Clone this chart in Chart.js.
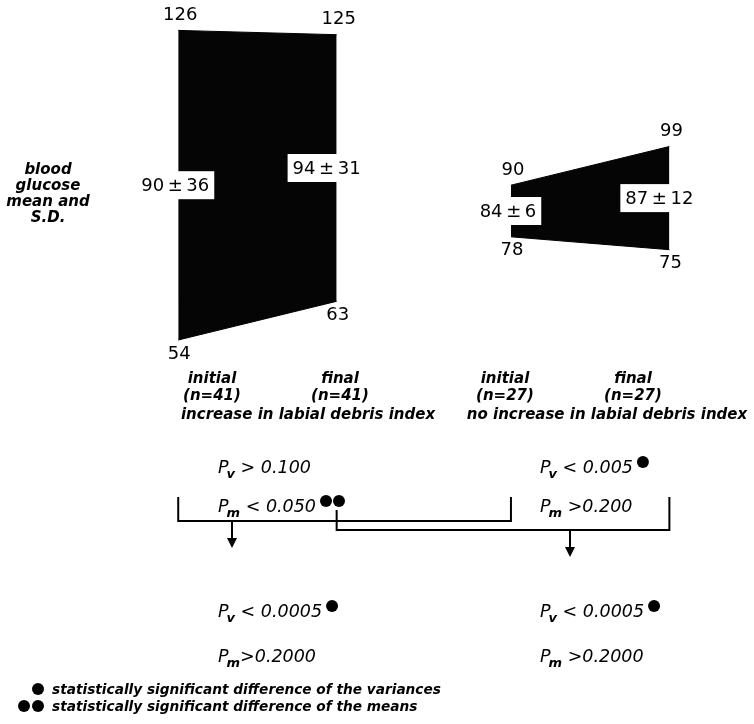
<!DOCTYPE html>
<html>
<head>
<meta charset="utf-8">
<script src="https://cdn.jsdelivr.net/npm/chart.js@4.4.1/dist/chart.umd.min.js"></script>
<style>
  html, body { margin: 0; padding: 0; background: #fff; }
  canvas { display: block; }
</style>
</head>
<body>
<canvas id="c" width="754" height="724"></canvas>
<script>
// Blood glucose, mean and S.D., at the start and at the end of the study
const groupNames = ['increase in labial debris index', 'no increase in labial debris index'];
const sampleSizes = [41, 27];
const stageNames = ['initial', 'final'];
const initialMeans = [90, 84];
const initialSDs = [36, 6];
const finalMeans = [94, 87];
const finalSDs = [31, 12];

// Tests: v = variances, m = means; marks = number of significance dots
const withinGroupTests = [
  [{ sub: 'v', text: ' > 0.100', marks: 0 }, { sub: 'm', text: ' < 0.050', marks: 2 }],
  [{ sub: 'v', text: ' < 0.005', marks: 1 }, { sub: 'm', text: ' >0.200', marks: 0 }]
];
// initial vs initial (left), final vs final (right)
const betweenGroupTests = [
  [{ sub: 'v', text: ' < 0.0005', marks: 1 }, { sub: 'm', text: '>0.2000', marks: 0 }],
  [{ sub: 'v', text: ' < 0.0005', marks: 1 }, { sub: 'm', text: ' >0.2000', marks: 0 }]
];
const legendLabels = [
  'statistically significant difference of the variances',
  'statistically significant difference of the means'
];
const axisTitle = ['blood', 'glucose', 'mean and', 'S.D.'];

// horizontal slot of each stage edge
const stageX = [[0, 1], [2.1, 3.1]];

// text placement (pixels)
const stageLabelX = [[212, 340], [505, 633]];
const groupLabelX = [308, 607];
const tagShift = [-3, -10];

const datasets = [];
groupNames.forEach((g, i) => {
  const [x0, x1] = stageX[i];
  datasets.push({
    label: g + ' (upper)',
    data: [{ x: x0, y: initialMeans[i] + initialSDs[i] }, { x: x1, y: finalMeans[i] + finalSDs[i] }],
    borderColor: '#000', borderWidth: 1, pointRadius: 0, fill: false, tension: 0
  });
  datasets.push({
    label: g + ' (lower)',
    data: [{ x: x0, y: initialMeans[i] - initialSDs[i] }, { x: x1, y: finalMeans[i] - finalSDs[i] }],
    borderColor: '#000', borderWidth: 1, pointRadius: 0, fill: '-1',
    backgroundColor: '#050505', tension: 0
  });
});

const NUM_FONT = '18px "DejaVu Sans", sans-serif';
const WORD_FONT = 'italic bold 15px "DejaVu Sans", sans-serif';
const P_FONT = 'italic 17.5px "DejaVu Sans", sans-serif';
const SUB_FONT = 'italic bold 13px "DejaVu Sans", sans-serif';
const KEY_FONT = 'italic bold 13.7px "DejaVu Sans", sans-serif';

function dot(ctx, x, y, r) {
  ctx.beginPath(); ctx.arc(x, y, r, 0, Math.PI * 2); ctx.fill();
}

function drawTest(ctx, x, baseline, t) {
  ctx.textAlign = 'left';
  ctx.textBaseline = 'alphabetic';
  ctx.font = P_FONT;
  ctx.fillText('P', x, baseline);
  let cx = x + ctx.measureText('P').width;
  ctx.font = SUB_FONT;
  ctx.fillText(t.sub, cx - 2, baseline + 5);
  cx += ctx.measureText(t.sub).width - 2;
  ctx.font = P_FONT;
  ctx.fillText(t.text, cx, baseline);
  cx += ctx.measureText(t.text).width;
  for (let k = 0; k < t.marks; k++) dot(ctx, cx + 10 + k * 13, baseline - 11, 6);
}

function arrow(ctx, x, y0, y1) {
  ctx.beginPath(); ctx.moveTo(x, y0); ctx.lineTo(x, y1 - 8); ctx.stroke();
  ctx.beginPath(); ctx.moveTo(x - 5, y1 - 10); ctx.lineTo(x + 5, y1 - 10); ctx.lineTo(x, y1); ctx.closePath(); ctx.fill();
}

const annotations = {
  id: 'annotations',
  afterDatasetsDraw(chart) {
    const ctx = chart.ctx;
    const xs = chart.scales.x, ys = chart.scales.y;
    ctx.save();
    ctx.fillStyle = '#000';
    ctx.strokeStyle = '#000';

    // y-axis title
    ctx.font = WORD_FONT;
    ctx.textAlign = 'center';
    ctx.textBaseline = 'middle';
    axisTitle.forEach((s, k) => ctx.fillText(s, 48, 170 + k * 16));

    groupNames.forEach((g, i) => {
      const means = [initialMeans[i], finalMeans[i]];
      const sds = [initialSDs[i], finalSDs[i]];
      stageX[i].forEach((sx, j) => {
        const px = xs.getPixelForValue(sx);
        const top = means[j] + sds[j], bot = means[j] - sds[j];
        ctx.font = NUM_FONT;
        ctx.textAlign = 'center';
        ctx.textBaseline = 'middle';
        ctx.fillText(String(top), px + 2, ys.getPixelForValue(top) - 15);
        ctx.fillText(String(bot), px + 1, ys.getPixelForValue(bot) + 14);

        // mean ± S.D. tag on the edge
        const tag = means[j] + '\u2009\u00b1\u2009' + sds[j];
        const w = ctx.measureText(tag).width + 10;
        const my = ys.getPixelForValue(means[j]);
        const tx = px + tagShift[j];
        ctx.fillStyle = '#fff';
        ctx.fillRect(tx - w / 2, my - 14, w, 28);
        ctx.fillStyle = '#000';
        ctx.fillText(tag, tx, my + 1);

        // stage name and n
        ctx.font = WORD_FONT;
        ctx.fillText(stageNames[j], stageLabelX[i][j], 379);
        ctx.fillText('(n=' + sampleSizes[i] + ')', stageLabelX[i][j], 396);
      });
      ctx.font = WORD_FONT;
      ctx.textAlign = 'center';
      ctx.fillText(g, groupLabelX[i], 415);
    });

    // within-group test results
    const textX = [218, 540];
    withinGroupTests.forEach((pair, i) => {
      drawTest(ctx, textX[i], 473, pair[0]);
      drawTest(ctx, textX[i], 512, pair[1]);
    });

    // brackets joining the matching stages of both groups
    ctx.lineWidth = 2;
    const levels = [521, 530];
    const leftTop = [497, 510];
    const arrowX = [232, 570];
    [0, 1].forEach(j => {
      const a = xs.getPixelForValue(stageX[0][j]);
      const b = xs.getPixelForValue(stageX[1][j]);
      ctx.beginPath();
      ctx.moveTo(a, leftTop[j]); ctx.lineTo(a, levels[j]);
      ctx.lineTo(b, levels[j]); ctx.lineTo(b, 497);
      ctx.stroke();
      arrow(ctx, arrowX[j], levels[j], levels[j] + 27);
    });

    // between-group test results
    betweenGroupTests.forEach((pair, i) => {
      drawTest(ctx, textX[i], 617, pair[0]);
      drawTest(ctx, textX[i], 662, pair[1]);
    });

    // key to the dots
    ctx.font = KEY_FONT;
    ctx.textAlign = 'left';
    ctx.textBaseline = 'alphabetic';
    legendLabels.forEach((s, k) => {
      const base = 694 + k * 17;
      for (let d = 0; d <= k; d++) dot(ctx, 38 - d * 14, base - 5, 6);
      ctx.fillText(s, 52, base);
    });
    ctx.restore();
  }
};

new Chart(document.getElementById('c'), {
  type: 'line',
  data: { datasets },
  options: {
    responsive: false,
    animation: false,
    events: [],
    layout: { padding: { left: 99, right: 5.4, top: 13.2, bottom: 151.8 } },
    scales: {
      x: { type: 'linear', min: -0.5, max: 3.6, display: false },
      y: { type: 'linear', min: 0, max: 130, display: false }
    },
    plugins: { legend: { display: false }, tooltip: { enabled: false } }
  },
  plugins: [annotations]
});
</script>
</body>
</html>
